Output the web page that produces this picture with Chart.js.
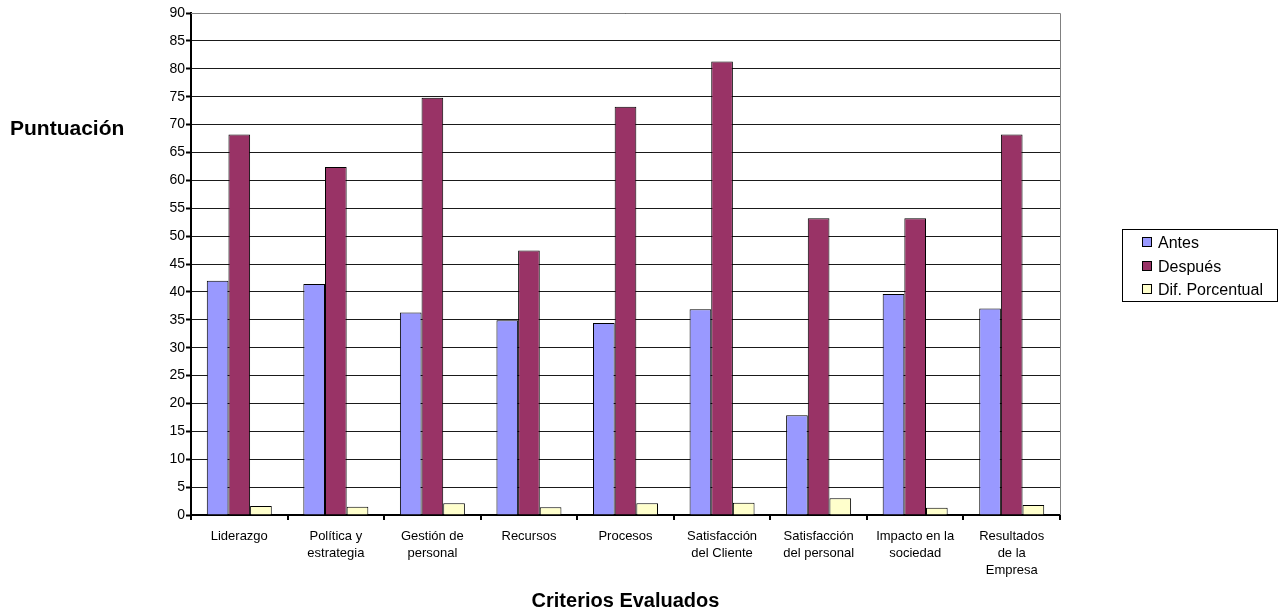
<!DOCTYPE html>
<html>
<head>
<meta charset="utf-8">
<script src="https://cdn.jsdelivr.net/npm/chart.js@4"></script>
<style>
  body { margin: 0; background: #fff; }
  #wrap { position: relative; width: 1279px; height: 614px; }
  #legend {
    position: absolute; left: 1122px; top: 229px; width: 156px; height: 73px;
    border: 1px solid #000; box-sizing: border-box;
    font-family: "Liberation Sans", Arial, sans-serif; font-size: 16px; color: #000;
    padding: 1px 0 0 19px;
  }
  #legend div { height: 23.5px; line-height: 23.5px; white-space: nowrap; }
  #legend span {
    display: inline-block; width: 8px; height: 8px; border: 1px solid #000;
    margin-right: 6px; vertical-align: 1px;
  }
</style>
</head>
<body>
<div id="wrap">
  <canvas id="chart" width="1279" height="614"></canvas>
  <div id="legend"></div>
</div>
<script>
// datos del gráfico
const criterios = [
    "Liderazgo",
    ["Política y", "estrategia"],
    ["Gestión de", "personal"],
    "Recursos",
    "Procesos",
    ["Satisfacción", "del Cliente"],
    ["Satisfacción", "del personal"],
    ["Impacto en la", "sociedad"],
    ["Resultados", "de la", "Empresa"]
];
const antes = [42.0, 41.4, 36.3, 34.9, 34.4, 36.9, 17.9, 39.6, 37.0];
const despues = [68.2, 62.4, 74.8, 47.4, 73.2, 81.3, 53.2, 53.2, 68.2];
const difPorcentual = [1.6, 1.5, 2.1, 1.4, 2.1, 2.2, 3.0, 1.3, 1.8];
const seriesNames = ["Antes", "Después", "Dif. Porcentual"];
const seriesColors = ["#9999FF", "#993366", "#FFFFCC"];

const FONT = "'Liberation Sans', Arial, sans-serif";

// título del eje Y en horizontal (como en Excel)
const yTitlePlugin = {
    id: "yTitle",
    afterDraw(chart) {
        const c = chart.ctx;
        c.save();
        c.font = "bold 21px " + FONT;
        c.fillStyle = "#000";
        c.textBaseline = "middle";
        c.fillText("Puntuación", 10, 129);
        c.restore();
    }
};

// borde gris arriba y a la derecha del área del gráfico
const framePlugin = {
    id: "frame",
    beforeDatasetsDraw(chart) {
        const a = chart.chartArea;
        const c = chart.ctx;
        c.save();
        c.strokeStyle = "#808080";
        c.lineWidth = 1;
        c.beginPath();
        c.moveTo(a.left, Math.round(a.top) + 0.5);
        c.lineTo(Math.round(a.right) + 0.5, Math.round(a.top) + 0.5);
        c.lineTo(Math.round(a.right) + 0.5, a.bottom);
        c.stroke();
        c.restore();
    }
};

const datasets = [antes, despues, difPorcentual].map((values, i) => ({
    label: seriesNames[i],
    data: values,
    backgroundColor: seriesColors[i],
    borderColor: "#000",
    borderWidth: 1,
    borderSkipped: "bottom",
    categoryPercentage: 0.673,
    barPercentage: 1.0
}));

const chart = new Chart(document.getElementById("chart").getContext("2d"), {
    type: "bar",
    data: { labels: criterios, datasets },
    options: {
        responsive: false,
        animation: false,
        layout: { padding: { top: 13, right: 219, bottom: 0, left: 0 } },
        plugins: {
            legend: { display: false },
            tooltip: { enabled: false }
        },
        scales: {
            x: {
                grid: {
                    offset: true,
                    drawOnChartArea: false,
                    drawTicks: true,
                    tickLength: 5,
                    color: "#000",
                    lineWidth: 2
                },
                border: { color: "#000", width: 2 },
                ticks: {
                    color: "#000",
                    font: { family: FONT, size: 13, lineHeight: 1.3 },
                    padding: 8,
                    maxRotation: 0,
                    autoSkip: false
                },
                title: {
                    display: true,
                    text: "Criterios Evaluados",
                    color: "#000",
                    font: { family: FONT, size: 20, weight: "bold" },
                    padding: { top: 4, bottom: 1 }
                },
                afterFit(scale) { scale.height = 99; }
            },
            y: {
                min: 0,
                max: 90,
                ticks: {
                    stepSize: 5,
                    color: "#000",
                    font: { family: FONT, size: 14 },
                    padding: 1
                },
                grid: {
                    color: "#1a1a1a",
                    lineWidth: 1,
                    tickLength: 5,
                    tickColor: "#000",
                    tickWidth: 2
                },
                border: { color: "#000", width: 2 },
                afterFit(scale) { scale.width = 191; }
            }
        }
    },
    plugins: [yTitlePlugin, framePlugin]
});

// leyenda con borde
const legendEl = document.getElementById("legend");
seriesNames.forEach((name, i) => {
    const row = document.createElement("div");
    const sw = document.createElement("span");
    sw.style.background = seriesColors[i];
    row.appendChild(sw);
    row.appendChild(document.createTextNode(name));
    legendEl.appendChild(row);
});
</script>
</body>
</html>
